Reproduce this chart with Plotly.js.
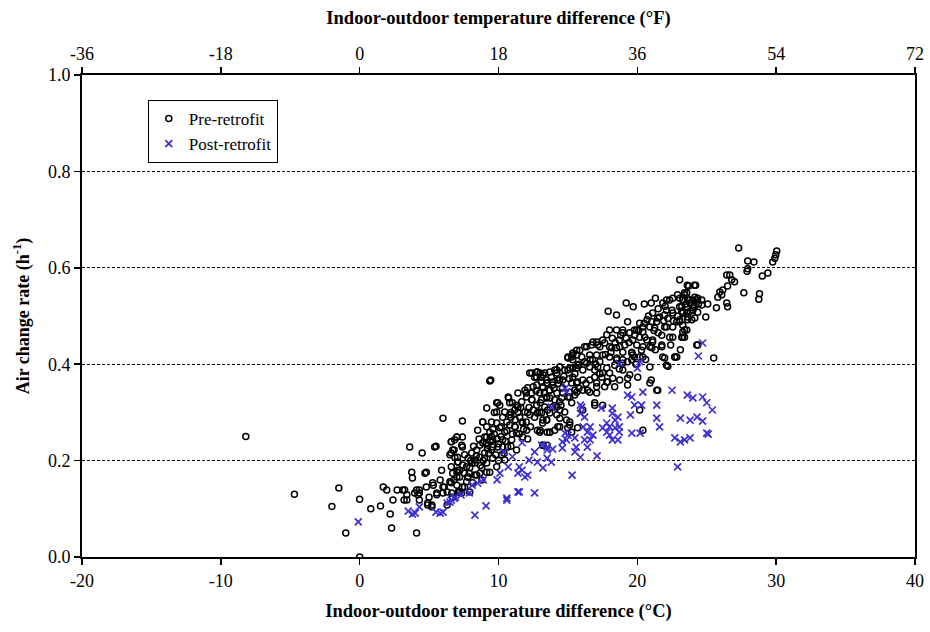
<!DOCTYPE html>
<html><head><meta charset="utf-8">
<script src="https://cdn.plot.ly/plotly-3.0.1.min.js"></script>
<style>html,body{margin:0;padding:0;background:#fff}</style>
</head><body><div id="chart" style="width:930px;height:632px"></div>
<script>
const xTicksC = [-20, -10, 0, 10, 20, 30, 40];
const xTicksF = [-36, -18, 0, 18, 36, 54, 72];
const yTicks = [0, 0.2, 0.4, 0.6, 0.8, 1.0];
const seriesNames = ['Pre-retrofit', 'Post-retrofit'];
const xTitleC = 'Indoor-outdoor temperature difference (°C)';
const xTitleF = 'Indoor-outdoor temperature difference (°F)';
const yTitle = 'Air change rate (h<sup>-1</sup>)';

// [temperature difference °C, air change rate h-1]
const preRetrofitLow = [
 [-8.2,0.25],[-4.7,0.13],[-2.0,0.105],[-1.5,0.143],[-1.0,0.05],[0.0,0.12],[0.0,0.0],[0.8,0.10],[1.5,0.106],[1.7,0.145],
 [1.95,0.139],[2.3,0.06],[2.4,0.118],[2.2,0.089],[2.7,0.139],[3.1,0.139],[3.4,0.129],[3.2,0.118],[3.6,0.228],[3.75,0.176],
 [4.1,0.139],[4.3,0.139],[4.2,0.129],[4.3,0.118],[4.5,0.216],[4.1,0.05],[4.8,0.176],[4.9,0.108],[5.2,0.104],[5.0,0.124],
 [5.3,0.149],[5.55,0.129],[5.8,0.16],[5.9,0.18],[5.5,0.23],[6.1,0.145],[6.3,0.135],[6.5,0.156],[6.6,0.187],[6.6,0.239],
 [6.8,0.222],[6.8,0.16],[7.0,0.176],[7.1,0.197],[7.0,0.249],[7.1,0.135],
 [3.24,0.139],[3.4,0.118],[3.96,0.133],[4.3,0.133],[4.8,0.145],[5.26,0.154],[5.55,0.133],[6.0,0.145],[6.0,0.133],[5.2,0.108],
 [4.9,0.112],[6.3,0.108],[6.7,0.124],[7.2,0.135],[7.4,0.145],[7.7,0.156],[7.8,0.166],[8.3,0.17],[8.65,0.174],[9.15,0.176],
 [7.2,0.18],[7.55,0.174],[7.7,0.187],[7.9,0.174],[8.1,0.195],[8.3,0.201],[7.0,0.166],[6.6,0.154],[4.7,0.174],[3.8,0.164]
];
const preRetrofitMid = [
 [6.0,0.288],[7.4,0.282],[7.4,0.249],[7.35,0.232],[6.7,0.222],[6.85,0.207],[6.5,0.212],[7.05,0.197],[5.4,0.228],
 [9.37,0.365],[9.15,0.309],[9.94,0.32],[9.87,0.301],[10.7,0.332],[8.86,0.28],[8.5,0.263],[8.65,0.232],[9.15,0.249],
 [11.4,0.311],[11.7,0.28],[11.2,0.27],[12.0,0.34],[12.1,0.351],[12.5,0.353],[13.0,0.382],[12.75,0.384],[13.2,0.378],
 [13.5,0.361],[13.8,0.373],[14.2,0.388],[12.75,0.373],[13.2,0.351],[12.4,0.326],[12.8,0.299],[13.0,0.263],[13.5,0.259],
 [13.2,0.232],[13.5,0.232],[14.05,0.263],[14.2,0.311],
 [9.44,0.367],[9.87,0.32],[10.09,0.315],[10.73,0.33],[6.84,0.243],[7.0,0.249],[6.6,0.239],[7.4,0.228],[6.6,0.216],[7.05,0.207],
 [7.56,0.212],[8.07,0.216],[8.43,0.222],[8.65,0.207],[9.0,0.216],[8.86,0.237],[9.0,0.249],[9.15,0.27],[8.86,0.28],[9.5,0.28],
 [9.87,0.278],[10.09,0.268],[9.37,0.259],[9.58,0.243],[9.22,0.232],[9.5,0.222],[9.94,0.228],[10.3,0.243],[10.45,0.259],[10.8,0.274],
 [11.17,0.27],[11.3,0.257],[10.95,0.243],[10.66,0.228],[10.23,0.212],[9.58,0.205],[9.15,0.195],[8.8,0.185],[8.29,0.195],[7.93,0.185],
 [7.42,0.191],[7.06,0.18],[6.7,0.174],[7.2,0.166],[7.78,0.166],[8.43,0.17],[8.8,0.16],[8.14,0.154],[7.56,0.145],[7.0,0.149],
 [6.63,0.133],[7.35,0.133],[7.93,0.135],[9.37,0.176],[9.87,0.187],[10.45,0.201],[11.3,0.222],[11.74,0.249],[12.03,0.263],[11.74,0.278],
 [11.53,0.29],[11.9,0.301],[12.25,0.295],[12.6,0.29],[12.97,0.301],[12.75,0.315],[12.4,0.326],[12.03,0.332],[11.67,0.322],[11.17,0.305],
 [10.8,0.295],[10.45,0.301],[10.8,0.32],[13.1,0.326],[13.47,0.332],[13.69,0.346],[13.47,0.361],[13.1,0.363],[12.6,0.373],[12.4,0.382],
 [12.8,0.384],[14.2,0.382],[14.4,0.367],[13.9,0.357],[14.6,0.351],[14.99,0.332],[14.4,0.322],[13.9,0.311],[13.54,0.305],[13.2,0.284],
 [12.8,0.263],[13.69,0.259],[13.47,0.284],[14.2,0.295],[14.77,0.301],[15.13,0.28],[14.99,0.268],[14.41,0.27],[15.27,0.32],[15.49,0.336],
 [15.63,0.361],[15.35,0.373],[15.0,0.388],[15.35,0.392],[15.7,0.398],[15.0,0.415],[15.35,0.419],[15.63,0.429],[14.41,0.394],[12.25,0.382],
 [12.75,0.357],[11.9,0.346],[11.4,0.34],
 [9.0,0.205],[9.3,0.215],[9.6,0.228],[9.8,0.212],[10.0,0.235],[10.2,0.25],[9.4,0.24],[9.7,0.255],[10.5,0.24],[10.0,0.2],
 [9.2,0.225],[8.9,0.2],[10.3,0.228],[9.6,0.265],[10.6,0.262],[11.0,0.255],[11.2,0.285],[10.9,0.29],[11.4,0.3],[12.2,0.31],
 [12.5,0.305],[12.0,0.28],[12.3,0.27],[11.8,0.265],
 [8.0,0.2],[8.4,0.21],[8.7,0.19],[9.1,0.235],[9.5,0.25],[9.9,0.245],[10.2,0.27],[10.6,0.28],[10.9,0.3],[11.3,0.315],
 [11.6,0.31],[12.1,0.3],[12.4,0.34],[12.7,0.345],[13.0,0.32],[13.3,0.34],[13.7,0.33],[14.0,0.35],[14.3,0.36],[14.7,0.375],
 [15.1,0.37],[15.5,0.38],[10.4,0.215],[10.9,0.23],[11.5,0.255],[12.1,0.245],[8.6,0.245],[8.2,0.23],[7.8,0.205],[9.7,0.3],
 [10.3,0.29],[11.0,0.32],[14.5,0.315],[15.8,0.35]
];
const preRetrofitHigh = [
 [23.05,0.575],[23.6,0.564],[24.1,0.564],[19.2,0.527],[19.7,0.519],[20.5,0.525],[17.9,0.51],[18.5,0.502],[19.3,0.488],
 [22.1,0.533],[22.55,0.537],[22.9,0.544],[23.3,0.533],[23.56,0.548],[23.78,0.527],[24.28,0.533],[24.0,0.512],[23.56,0.506],[23.05,0.519],
 [22.5,0.512],[21.97,0.502],[21.6,0.498],[21.1,0.506],[21.4,0.488],[20.7,0.492],[20.17,0.485],[20.9,0.477],[21.25,0.475],[21.97,0.477],
 [22.55,0.477],[23.05,0.488],[23.4,0.471],[22.55,0.456],[23.27,0.456],[20.4,0.467],[19.96,0.471],[19.45,0.465],[18.95,0.465],[18.5,0.471],
 [18.0,0.471],[17.8,0.461],[18.2,0.454],[18.7,0.45],[19.2,0.454],[19.67,0.45],[20.17,0.456],[20.68,0.45],[21.1,0.446],[20.9,0.436],
 [21.76,0.436],[21.83,0.415],[22.7,0.415],[22.1,0.398],[20.4,0.436],[19.96,0.44],[19.6,0.425],[18.95,0.425],[18.5,0.434],[18.0,0.436],
 [17.65,0.444],[17.3,0.436],[17.07,0.446],[16.7,0.44],[16.2,0.436],[15.85,0.429],[15.63,0.419],[15.27,0.415],[15.0,0.413],[15.35,0.409],
 [16.0,0.415],[16.57,0.419],[17.07,0.419],[17.5,0.419],[18.0,0.415],[18.5,0.409],[18.95,0.409],[19.3,0.405],[19.6,0.409],[19.8,0.415],
 [20.17,0.415],[18.95,0.388],[18.37,0.398],[17.8,0.392],[17.15,0.394],[16.57,0.394],[16.07,0.388],[15.63,0.392],[15.13,0.392],[14.77,0.388],
 [14.41,0.394],[14.05,0.388],[13.69,0.384],[13.33,0.382],[13.1,0.373],[13.47,0.367],[13.9,0.363],[14.27,0.367],[14.63,0.367],[15.27,0.361],
 [15.7,0.363],[16.07,0.367],[16.57,0.367],[16.93,0.373],[17.44,0.373],[17.87,0.363],[18.23,0.371],[18.73,0.367],[18.37,0.353],[17.65,0.353],
 [17.07,0.353],[16.57,0.342],[16.07,0.346],[15.63,0.342],[15.13,0.342],[14.63,0.34],[14.2,0.34],[13.69,0.346],[13.18,0.353],[12.97,0.34],
 [13.47,0.33],[14.05,0.326],[14.55,0.33],[15.13,0.332],[13.9,0.311],[14.41,0.305],[13.33,0.311],[13.1,0.299],[13.69,0.299],[13.47,0.284],
 [14.27,0.27],[14.41,0.288],[15.13,0.274],[14.9,0.284],[15.27,0.259],[15.7,0.268],[16.07,0.305],[17.07,0.34],[16.93,0.32],[17.5,0.315],
 [19.3,0.357],[20.03,0.373],[21.0,0.367],[21.47,0.346],[20.17,0.305],[19.45,0.378],[21.97,0.413],[22.84,0.415],[24.28,0.44],[20.4,0.263],
 [13.69,0.259],[13.18,0.278],[12.97,0.259],[13.18,0.232],
 [21.83,0.527],[22.33,0.533],[23.05,0.537],[23.4,0.544],[23.78,0.533],[24.14,0.539],[22.1,0.512],[22.55,0.506],[23.27,0.506],[23.63,0.492],
 [22.84,0.488],[22.1,0.477],[21.47,0.496],[21.04,0.488],[20.39,0.477],[19.8,0.471],[18.95,0.471],[17.5,0.45],[17.15,0.44],[16.8,0.446],
 [16.35,0.436],[15.35,0.423],[20.53,0.456],[21.1,0.45],[21.76,0.46],[22.33,0.456],[23.4,0.456],[21.76,0.44],[21.04,0.434],[20.3,0.429],
 [19.6,0.423],[18.73,0.436],[18.16,0.434],[18.52,0.413],[18.95,0.402],[19.67,0.419],[20.39,0.415],[20.9,0.394],[22.2,0.396],[22.7,0.415],
 [16.78,0.409],[16.35,0.402],[16.93,0.388],[17.5,0.382],[18.0,0.382],[19.3,0.371],[17.8,0.363],[17.07,0.361],[16.42,0.346],[15.5,0.346],
 [16.93,0.315],[20.9,0.361],[21.4,0.346],[21.3,0.537],[21.0,0.527],
 [15.8,0.4],[16.2,0.405],[16.6,0.41],[17.0,0.4],[17.3,0.405],[17.7,0.42],[18.1,0.425],[18.4,0.445],[18.8,0.46],[19.1,0.44],
 [19.4,0.445],[19.8,0.46],[20.1,0.47],[20.5,0.485],[20.8,0.5],[21.2,0.47],[21.5,0.465],[21.9,0.49],[22.2,0.495],[22.6,0.49],
 [22.9,0.5],[23.2,0.51],[23.5,0.525],[23.8,0.51],[24.1,0.52],[24.4,0.525],[22.0,0.52],[21.5,0.515],[16.3,0.36],[17.3,0.38],
 [18.7,0.39],[19.9,0.4],[20.6,0.41],[21.3,0.43],[22.4,0.44],[23.1,0.43],
 [27.3,0.641],[27.95,0.614],[28.4,0.612],[30.04,0.635],[29.97,0.627],[29.9,0.62],[29.75,0.612],[29.4,0.589],[29.0,0.583],[28.8,0.546],
 [28.75,0.535],[27.9,0.593],[27.95,0.598],[27.67,0.548],[26.44,0.585],[26.66,0.585],[26.8,0.575],[27.0,0.571],[26.5,0.562],[25.94,0.55],
 [26.08,0.544],[25.8,0.539],[26.44,0.527],[26.5,0.519],[26.15,0.554],[25.7,0.517],[25.07,0.525],[24.93,0.498],[24.2,0.564],[23.7,0.562],
 [23.4,0.548],[23.27,0.533],[23.6,0.537],[23.99,0.533],[24.35,0.537],[24.64,0.533],[23.2,0.519],[23.56,0.519],[23.99,0.517],[24.35,0.508],
 [24.64,0.523],[23.27,0.506],[23.63,0.498],[23.92,0.492],[24.14,0.496],[23.05,0.492],[23.27,0.481],[23.56,0.471],[23.27,0.467],[23.2,0.456],
 [24.35,0.44],[25.5,0.413]
];
const postRetrofit = [
 [-0.1,0.073],[3.5,0.095],[3.8,0.089],[4.3,0.104],[5.5,0.093],[5.8,0.091],[6.3,0.112],[6.6,0.118],[6.9,0.124],[4.0,0.091],
 [6.0,0.093],[6.5,0.114],[6.8,0.122],[7.3,0.129],[7.9,0.133],[8.1,0.149],[8.5,0.153],[8.9,0.16],[8.3,0.087],[9.1,0.106],
 [9.9,0.16],[10.1,0.174],[10.6,0.118],[10.7,0.187],[10.4,0.218],[11.0,0.208],[11.4,0.174],[11.5,0.187],[11.7,0.18],[12.1,0.17],
 [11.9,0.166],[11.5,0.135],[12.6,0.133],[12.2,0.201],[12.8,0.197],[13.2,0.185],[13.5,0.205],[13.8,0.197],[13.5,0.228],[13.9,0.224],
 [13.8,0.311],[11.7,0.237],[12.6,0.218],[13.1,0.232],[13.5,0.222],[14.6,0.226],[14.9,0.243],[15.0,0.253],[14.8,0.35],[15.3,0.17],
 [11.4,0.135],[10.6,0.122],
 [14.9,0.342],[16.0,0.311],[15.9,0.298],[16.2,0.29],[16.1,0.27],[16.6,0.27],[16.4,0.259],[16.8,0.253],[14.8,0.257],[14.6,0.239],
 [15.5,0.247],[15.6,0.228],[16.2,0.243],[16.4,0.228],[16.6,0.243],[15.9,0.207],[15.5,0.218],[17.1,0.21],[17.4,0.309],[18.2,0.309],
 [18.2,0.298],[18.4,0.284],[18.6,0.29],[17.8,0.278],[17.5,0.268],[18.0,0.27],[18.4,0.268],[18.7,0.27],[17.8,0.259],[18.0,0.253],
 [18.2,0.243],[18.6,0.243],[18.7,0.259],[19.5,0.295],[19.3,0.336],[19.6,0.332],[19.8,0.315],[20.3,0.315],[20.4,0.342],[19.6,0.257],
 [20.2,0.257],[21.4,0.315],[21.4,0.288],[21.6,0.27],[22.5,0.346],[23.6,0.336],[24.0,0.33],[24.7,0.332],[25.0,0.32],[25.4,0.305],
 [23.1,0.288],[23.8,0.284],[24.3,0.29],[24.7,0.282],[22.7,0.247],[23.1,0.239],[23.4,0.243],[23.8,0.247],[25.0,0.257],[25.1,0.255],
 [22.9,0.187],[24.7,0.444],[24.4,0.417],[18.7,0.402],[20.0,0.392],[20.2,0.405],[15.9,0.315]
];

const preRetrofit = preRetrofitLow.concat(preRetrofitMid, preRetrofitHigh);

const font = 'Liberation Serif, Times New Roman, serif';
const blue = '#3b2fd0';

const traces = [
  {
    type: 'scatter', mode: 'markers', name: seriesNames[0],
    x: preRetrofit.map(d => d[0]), y: preRetrofit.map(d => d[1]),
    marker: {symbol: 'circle-open', size: 6, color: '#000', line: {width: 1.5, color: '#000'}},
    hoverinfo: 'x+y'
  },
  {
    type: 'scatter', mode: 'markers', name: seriesNames[1],
    x: postRetrofit.map(d => d[0]), y: postRetrofit.map(d => d[1]),
    marker: {symbol: 'x-thin-open', size: 7, color: blue, line: {width: 1.7, color: blue}},
    hoverinfo: 'x+y'
  },
  {
    type: 'scatter', mode: 'markers', xaxis: 'x2', yaxis: 'y',
    x: xTicksF, y: xTicksF.map(() => null),
    showlegend: false, hoverinfo: 'skip', marker: {opacity: 0}
  }
];

const layout = {
  width: 930, height: 632,
  margin: {l: 82, r: 15, t: 75, b: 75},
  paper_bgcolor: '#fff', plot_bgcolor: '#fff',
  font: {family: font, color: '#000', size: 17},
  showlegend: true,
  legend: {
    x: 0.079, y: 0.948, xanchor: 'left', yanchor: 'top',
    bgcolor: '#fff', bordercolor: '#000', borderwidth: 1,
    font: {family: font, size: 17, color: '#000'},
    tracegroupgap: 0, itemwidth: 30
  },
  xaxis: {
    range: [-20, 40], tickvals: xTicksC, ticktext: xTicksC.map(String),
    ticks: 'outside', ticklen: 6, tickwidth: 1.5, tickcolor: '#000',
    showline: true, linewidth: 2, linecolor: '#000', mirror: false,
    showgrid: false, zeroline: false, automargin: false,
    tickfont: {family: font, size: 18},
    title: {text: '<b>' + xTitleC + '</b>', font: {family: font, size: 18.5}, standoff: 14}
  },
  xaxis2: {
    overlaying: 'x', side: 'top', anchor: 'y',
    range: [-36, 72], tickvals: xTicksF, ticktext: xTicksF.map(String),
    ticks: 'outside', ticklen: 6, tickwidth: 1.5, tickcolor: '#000',
    showline: true, linewidth: 2, linecolor: '#000',
    showgrid: false, zeroline: false, automargin: false,
    tickfont: {family: font, size: 18},
    title: {text: '<b>' + xTitleF + '</b>', font: {family: font, size: 18.5}, standoff: 14}
  },
  yaxis: {
    range: [0, 1], tickvals: yTicks, tickformat: '.1f',
    ticks: 'outside', ticklen: 6, tickwidth: 1.5, tickcolor: '#000',
    showline: true, linewidth: 2, linecolor: '#000', mirror: true,
    showgrid: true, gridcolor: '#000', gridwidth: 1, griddash: '3px,2px',
    zeroline: false, automargin: false,
    tickfont: {family: font, size: 18},
    title: {text: '<b>' + yTitle + '</b>', font: {family: font, size: 18}, standoff: 14}
  }
};

Plotly.newPlot('chart', traces, layout, {displayModeBar: false, staticPlot: true});
</script>
</body></html>
